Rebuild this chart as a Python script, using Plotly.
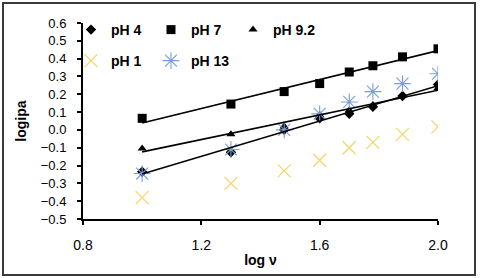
import numpy as np
import plotly.graph_objects as go

log_v = [1.0, 1.30, 1.48, 1.60, 1.70, 1.78, 1.88, 2.0]
ph4 = [-0.235, -0.125, 0.0, 0.065, 0.09, 0.13, 0.19, 0.255]
ph7 = [0.065, 0.145, 0.215, 0.26, 0.325, 0.36, 0.41, 0.455]
ph92 = [-0.105, -0.025, 0.02, 0.085, 0.11, 0.14, 0.195, 0.235]
ph1 = [-0.38, -0.30, -0.23, -0.17, -0.10, -0.07, -0.025, 0.017]
ph13 = [-0.245, -0.11, 0.0, 0.09, 0.157, 0.215, 0.26, 0.315]

FONT = "Liberation Sans, Arial, sans-serif"
W, H = 480, 278
L, R, T, B = 83, 42, 23, 59
pw, ph = W - L - R, H - T - B

fig = go.Figure()

# (name, data, symbol, size, colour, outline width, legend id, text x px, row y px)
series = [
    ("pH 4", ph4, "diamond", 8, "black", 0, "legend", 108, 30),
    ("pH 7", ph7, "square", 9, "black", 0, "legend2", 188, 30),
    ("pH 9.2", ph92, "triangle-up", 8, "black", 0, "legend3", 270, 30),
    ("pH 1", ph1, "x-thin-open", 13, "#F7D46A", 1.3, "legend4", 108, 61),
    ("pH 13", ph13, "asterisk-open", 14, "#7B9CDB", 1.1, "legend5", 188, 61),
]

legends = {}
for name, y, sym, size, col, lw, leg, tx, ty in series:
    mk = dict(symbol=sym, size=size, color=col)
    if lw:
        mk["line"] = dict(color=col, width=lw)
    fig.add_trace(go.Scatter(x=log_v, y=y, mode="markers", name=name,
                             marker=mk, legend=leg))
    legends[leg] = dict(
        x=(tx - 37 - L) / pw, y=1 - (ty - T) / ph,
        xanchor="left", yanchor="middle",
        bgcolor="rgba(0,0,0,0)", borderwidth=0,
        font=dict(family=FONT, size=14, color="black", weight="bold"),
        itemsizing="trace",
    )

# linear least-squares trendlines for pH 4, 7, 9.2
xs = np.array([min(log_v), max(log_v)])
for y in (ph4, ph7, ph92):
    k, b = np.polyfit(log_v, y, 1)
    fig.add_trace(go.Scatter(x=xs, y=k * xs + b, mode="lines",
                             line=dict(color="black", width=1.6),
                             showlegend=False, hoverinfo="skip"))

fig.update_layout(
    width=W, height=H,
    margin=dict(l=L, r=R, t=T, b=B, autoexpand=False),
    paper_bgcolor="white", plot_bgcolor="white",
    font=dict(family=FONT, size=12, color="black"),
    showlegend=True,
    xaxis=dict(range=[0.8, 2.0], dtick=0.4, tick0=0.8, tickformat=".1f",
               automargin=False,
               showgrid=False, zeroline=False, showline=True,
               linecolor="black", linewidth=2, ticks="outside", ticklen=4,
               tickwidth=1.5, tickcolor="black",
               tickfont=dict(size=14), ticklabelstandoff=8,
               title=dict(text="log ν", standoff=3,
                          font=dict(size=14, weight="bold"))),
    yaxis=dict(range=[-0.5, 0.6], dtick=0.1, tickformat=".1f",
               automargin=False,
               showgrid=False, zeroline=False, showline=True,
               linecolor="black", linewidth=2, ticks="outside", ticklen=4,
               tickwidth=1.5, tickcolor="black",
               tickfont=dict(size=13), ticklabelstandoff=8,
               title=dict(text="logipa", standoff=11,
                          font=dict(size=14, weight="bold"))),
    shapes=[dict(type="rect", xref="paper", yref="paper",
                 x0=(3 - L) / pw, x1=(475 - L) / pw,
                 y0=(H - B - 275) / ph, y1=(H - B - 3) / ph,
                 line=dict(color="#3a3a3a", width=2),
                 fillcolor="rgba(0,0,0,0)", layer="below")],
    **legends,
)

fig.write_html("out.html",
               config={"displayModeBar": False},
               post_script="document.body.style.margin='0';"
                           "document.body.style.overflow='hidden';")
